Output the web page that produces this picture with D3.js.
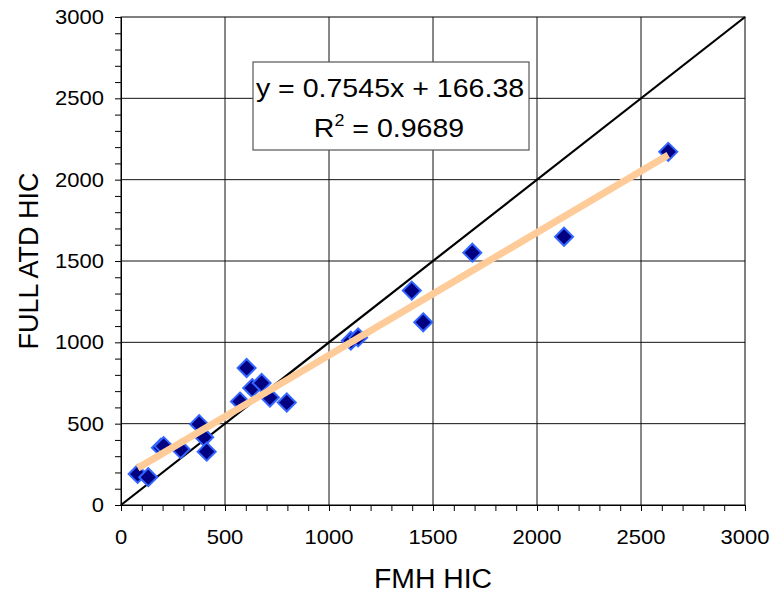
<!DOCTYPE html>
<html>
<head>
<meta charset="utf-8">
<title>FMH HIC vs FULL ATD HIC</title>
<script src="https://cdn.jsdelivr.net/npm/d3@7"></script>
<style>
  body { margin: 0; background: #fff; }
  text { font-family: "Liberation Sans", Arial, sans-serif; fill: #000; }
</style>
</head>
<body>
<svg id="vis" width="773" height="596"></svg>
<script>
// data
var fmhHic = [80, 131, 192, 205, 287, 376, 400, 412, 572, 604, 631, 676, 716, 797, 1105, 1140, 1398, 1453, 1689, 2130, 2631];
var atdHic = [191, 171, 352, 362, 343, 497, 417, 328, 636, 842, 719, 750, 661, 630, 1010, 1030, 1318, 1123, 1551, 1649, 2171];
var axisTicks = [0, 500, 1000, 1500, 2000, 2500, 3000];
var minorTicks = d3.range(0, 3001, 100);
var fitSlope = 0.7545, fitIntercept = 166.38, fitR2 = 0.9689;

var svg = d3.select("#vis");
var pl = 121, pr = 745, pt = 17, pb = 505;   // plot area edges

var x = d3.scaleLinear().domain([0, 3000]).range([pl, pr]);
var y = d3.scaleLinear().domain([0, 3000]).range([pb, pt]);

// little helper: text slightly wider than the font draws it
function stretchText(g, tx, ty, str, size, sx, anchor, rot) {
  var t = g.append("text")
    .attr("transform", "translate(" + tx + "," + ty + ") scale(" + sx + ",1)" + (rot ? " rotate(" + rot + ")" : ""))
    .attr("font-size", size)
    .attr("text-anchor", anchor || "middle")
    .text(str);
  return t;
}

// grid
svg.append("g").selectAll("line").data(axisTicks.slice(1, -1)).enter().append("line")
  .attr("x1", function (d) { return x(d); }).attr("x2", function (d) { return x(d); })
  .attr("y1", pt).attr("y2", pb)
  .attr("stroke", "#111").attr("stroke-width", 1);
svg.append("g").selectAll("line").data(axisTicks.slice(1, -1)).enter().append("line")
  .attr("y1", function (d) { return y(d); }).attr("y2", function (d) { return y(d); })
  .attr("x1", pl).attr("x2", pr)
  .attr("stroke", "#111").attr("stroke-width", 1);

// frame
svg.append("rect").attr("x", pl).attr("y", pt)
  .attr("width", pr - pl).attr("height", pb - pt)
  .attr("fill", "none").attr("stroke", "#000").attr("stroke-width", 1);

// axes with minor ticks every 100
var xAxis = d3.axisBottom(x).tickValues(minorTicks).tickSize(6).tickFormat("");
var yAxis = d3.axisLeft(y).tickValues(minorTicks).tickSize(6).tickFormat("");
var gx = svg.append("g").attr("transform", "translate(0," + pb + ")").call(xAxis);
var gy = svg.append("g").attr("transform", "translate(" + pl + ",0)").call(yAxis);
gx.select(".domain").attr("stroke", "#000");
gy.select(".domain").attr("stroke", "#000");
svg.selectAll(".tick line").attr("stroke", "#000");

// tick labels
axisTicks.forEach(function (d) {
  stretchText(svg, x(d), 544, d, 20, 1.1, "middle");
  stretchText(svg, 104, y(d) + 7, d, 20, 1.1, "end");
});

// axis titles
stretchText(svg, (pl + pr) / 2, 588, "FMH HIC", 27, 1.05, "middle");
stretchText(svg, 38, (pt + pb) / 2, "FULL ATD HIC", 27, 1.05, "middle", -90);

// y = x line
svg.append("line")
  .attr("x1", x(0)).attr("y1", y(0)).attr("x2", x(3000)).attr("y2", y(3000))
  .attr("stroke", "#000").attr("stroke-width", 2.2);

// points
var pts = fmhHic.map(function (v, i) { return [v, atdHic[i]]; });
var r = 9;
svg.append("g").selectAll("path").data(pts).enter().append("path")
  .attr("d", function (d) {
    var cx = x(d[0]), cy = y(d[1]);
    return "M" + cx + "," + (cy - r) + " L" + (cx + r) + "," + cy + " L" + cx + "," + (cy + r) + " L" + (cx - r) + "," + cy + " Z";
  })
  .attr("fill", "#000080").attr("stroke", "#3366ff").attr("stroke-width", 2);

// trend line
var xMin = d3.min(fmhHic), xMax = d3.max(fmhHic);
svg.append("line")
  .attr("x1", x(xMin)).attr("y1", y(fitSlope * xMin + fitIntercept))
  .attr("x2", x(xMax)).attr("y2", y(fitSlope * xMax + fitIntercept))
  .attr("stroke", "#ffcc99").attr("stroke-width", 7);

// equation box
svg.append("rect").attr("x", 253).attr("y", 62).attr("width", 276).attr("height", 88)
  .attr("fill", "#fff").attr("stroke", "#555").attr("stroke-width", 1.2);
stretchText(svg, 390, 97, "y = " + fitSlope + "x + " + fitIntercept, 25.5, 1.12, "middle");
var r2 = svg.append("text")
  .attr("transform", "translate(389,137) scale(1.12,1)")
  .attr("font-size", 25.5).attr("text-anchor", "middle");
r2.append("tspan").text("R");
r2.append("tspan").attr("font-size", 16).attr("dy", -11).text("2");
r2.append("tspan").attr("dy", 11).text(" = " + fitR2);
</script>
</body>
</html>
